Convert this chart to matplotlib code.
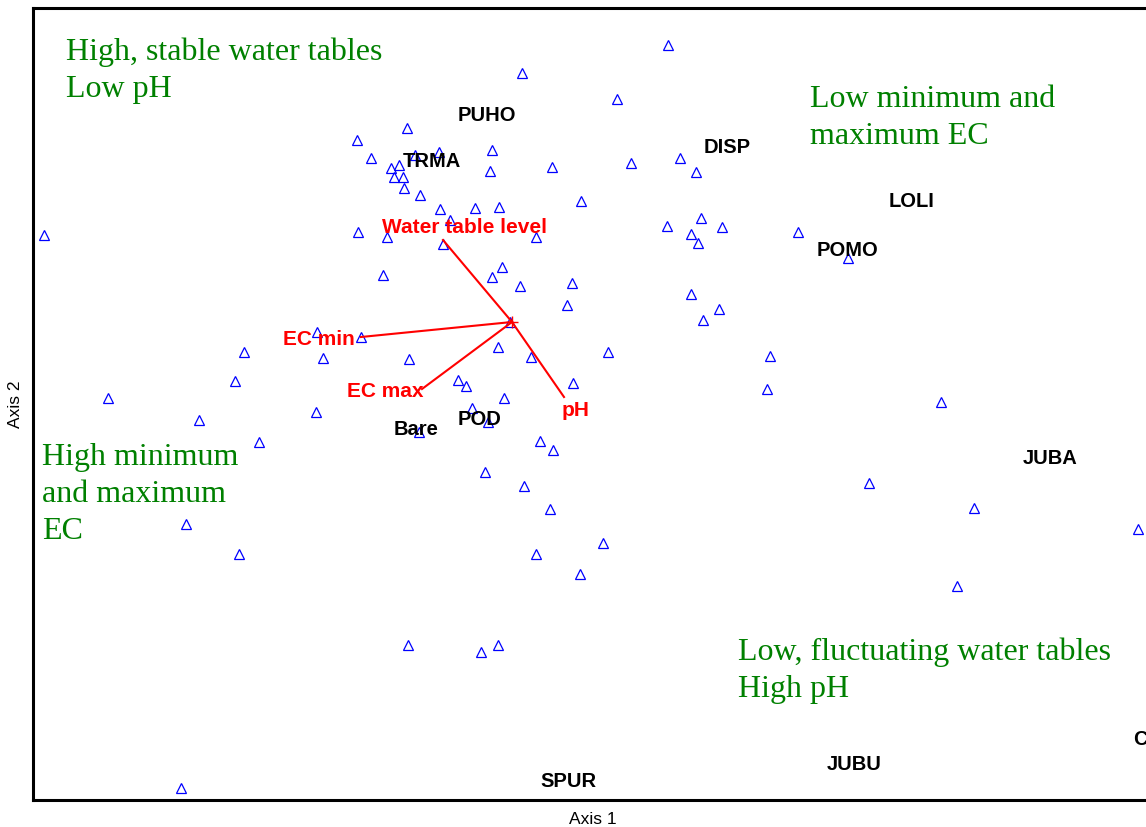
import matplotlib
matplotlib.use("Agg")
import matplotlib.pyplot as plt

# Site scores on the first two ordination axes
site_axis1 = [1.56, 0.10, 1.05, -1.05, -1.55, -1.41, -0.73, -0.97, -0.20, -0.22,
              0.40, 1.19, 1.68, 1.84, -1.21, -1.13, -1.18, -1.09, -1.08, -0.92,
              -0.72, -0.37, -0.13, 0.69, -0.62, -1.54, -1.25, -0.69, 0.24, -4.68,
              -1.29, -0.10, -0.20, 0.08, 0.60, 1.55, 1.89, 2.10, 1.79, 1.86,
              2.86, 3.36, 1.79, 2.07, 1.91, 0.55, -0.02, -1.51, -1.03, -0.14,
              0.19, 0.96, -0.54, -0.46, -0.08, 0.61, -0.40, -0.24, -0.93, 0.28,
              0.41, -0.27, 0.12, 0.38, 0.91, 0.24, 0.68, -1.95, -2.68, -1.89,
              -2.77, -4.04, -3.13, -1.96, -2.53, -3.26, -2.73, 2.58, 2.55, 4.29,
              3.57, 4.62, 6.26, 4.45, -1.04, -0.31, -0.14, -3.31]
site_axis2 = [2.77, 2.49, 2.23, 1.94, 1.82, 1.64, 1.70, 1.67, 1.72, 1.51,
              1.55, 1.59, 1.64, 1.50, 1.54, 1.57, 1.45, 1.45, 1.34, 1.27,
              1.13, 1.14, 1.15, 1.21, 1.02, 0.90, 0.85, 0.78, 0.85, 0.87,
              0.47, 0.55, 0.45, 0.36, 0.39, 0.96, 1.04, 0.95, 0.88, 0.79,
              0.90, 0.64, 0.28, 0.13, 0.02, 0.17, 0.00, -0.15, -0.37, -0.25,
              -0.35, -0.30, -0.58, -0.64, -0.76, -0.61, -0.86, -1.00, -1.10, -1.19,
              -1.28, -1.50, -1.64, -1.87, -2.21, -2.32, -2.52, -0.10, -0.30, -0.36,
              -0.59, -0.76, -0.98, -0.90, -1.20, -2.02, -2.32, -0.34, -0.67, -0.80,
              -1.61, -1.86, -2.07, -2.64, -3.23, -3.30, -3.23, -4.66]

# Species centroids
species_names = ["PUHO", "TRMA", "DISP", "LOLI", "POMO", "JUBA",
                 "POD", "Bare", "SPUR", "JUBU"]
species_axis1 = [-0.25, -0.80, 2.15, 4.00, 3.36, 5.38, -0.32, -0.96, 0.56, 3.42]
species_axis2 = [2.01, 1.55, 1.69, 1.15, 0.66, -1.42, -1.03, -1.13, -4.65, -4.48]
edge_species = "CASP"
edge_species_xy = (6.21, -4.23)

# Environmental vectors (biplot scores) and their label positions
env_names = ["Water table level", "EC min", "EC max", "pH"]
env_axis1 = [-0.69, -1.51, -0.90, 0.52]
env_axis2 = [0.82, -0.15, -0.67, -0.75]
env_label_x = [-0.47, -1.93, -1.27, 0.64]
env_label_y = [0.89, -0.23, -0.75, -0.94]

# Interpretive notes for the four regions of the ordination space
# (anchored at the baseline of each note's last line)
notes = ["High, stable water tables\nLow pH",
         "Low minimum and\nmaximum EC",
         "High minimum\nand maximum\nEC",
         "Low, fluctuating water tables\nHigh pH"]
note_x = [-4.46, 2.98, -4.70, 2.26]
note_y = [2.25, 1.78, -2.17, -3.75]

W, H = 1146, 827
fig = plt.figure(figsize=(W / 100, H / 100), dpi=100)
ax = fig.add_axes([33 / W, 27 / H, 1120 / W, 792 / H])
ax.set_xlim(-4.79, 6.41)
ax.set_ylim(-4.78, 3.14)
ax.set_xticks([])
ax.set_yticks([])
for s in ax.spines.values():
    s.set_linewidth(2.2)
    s.set_color("black")

sans = "Liberation Sans"
serif = "Liberation Serif"

ax.plot(site_axis1, site_axis2, linestyle="none", marker="^", markersize=6.5,
        markerfacecolor="none", markeredgecolor="#0000FF", markeredgewidth=0.9,
        zorder=2)

for name, x, y in zip(species_names, species_axis1, species_axis2):
    ax.text(x, y, name, ha="center", va="baseline", fontsize=14.5,
            fontweight="bold", family=sans, color="black", zorder=3)
ax.text(edge_species_xy[0], edge_species_xy[1], edge_species, ha="left",
        va="baseline", fontsize=14.5, fontweight="bold", family=sans,
        color="black", zorder=3)

for x1, y1 in zip(env_axis1, env_axis2):
    ax.plot([0, x1], [0, y1], color="#FF0000", linewidth=1.5, zorder=4)
ax.plot([0], [0], marker="+", color="#FF0000", markersize=8, markeredgewidth=1.0,
        zorder=4)
for name, x, y in zip(env_names, env_label_x, env_label_y):
    ax.text(x, y, name, ha="center", va="baseline", fontsize=15,
            fontweight="bold", family=sans, color="#FF0000", zorder=5)

for txt, x, y in zip(notes, note_x, note_y):
    ax.text(x, y, txt, ha="left", va="baseline", fontsize=23, family=serif,
            color="#008000", linespacing=1.37, zorder=3)

ax.set_xlabel("Axis 1", fontsize=12.5, family=sans)
ax.xaxis.set_label_coords(0.5, -0.024)
ax.xaxis.label.set_va("center")
ax.set_ylabel("Axis 2", fontsize=12.5, family=sans)
ax.yaxis.set_label_coords(-0.0152, 0.5)
ax.yaxis.label.set_va("center")

fig.savefig("out.png", dpi=100)
